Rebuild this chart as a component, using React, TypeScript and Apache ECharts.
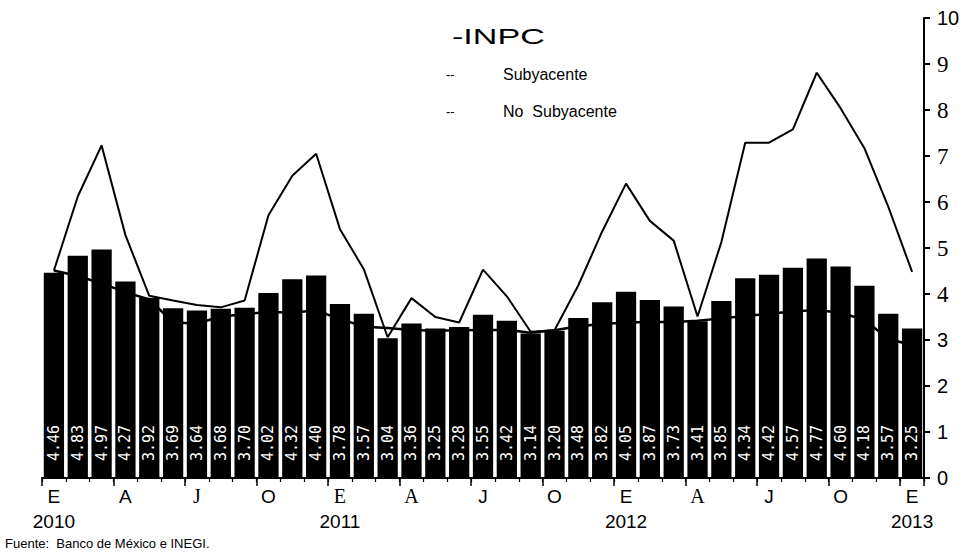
import React, { useEffect, useRef } from "react";
import * as echarts from "echarts";

const categories = [
  "E-2010", "F-2010", "M-2010", "A-2010", "M-2010", "J-2010", "J-2010", "A-2010", "S-2010", "O-2010", "N-2010", "D-2010",
  "E-2011", "F-2011", "M-2011", "A-2011", "M-2011", "J-2011", "J-2011", "A-2011", "S-2011", "O-2011", "N-2011", "D-2011",
  "E-2012", "F-2012", "M-2012", "A-2012", "M-2012", "J-2012", "J-2012", "A-2012", "S-2012", "O-2012", "N-2012", "D-2012",
  "E-2013",
];

const inpc = [
  4.46, 4.83, 4.97, 4.27, 3.92, 3.69, 3.64, 3.68, 3.70, 4.02, 4.32, 4.40,
  3.78, 3.57, 3.04, 3.36, 3.25, 3.28, 3.55, 3.42, 3.14, 3.20, 3.48, 3.82,
  4.05, 3.87, 3.73, 3.41, 3.85, 4.34, 4.42, 4.57, 4.77, 4.60, 4.18, 3.57,
  3.25,
];

const subyacente = [
  4.51, 4.39, 4.23, 4.04, 3.88, 3.38, 3.36, 3.51, 3.56, 3.61, 3.60, 3.64,
  3.46, 3.29, 3.26, 3.22, 3.20, 3.21, 3.22, 3.22, 3.16, 3.21, 3.30, 3.35,
  3.38, 3.39, 3.39, 3.42, 3.47, 3.52, 3.57, 3.62, 3.65, 3.59, 3.44, 3.02,
  2.89,
];

const noSubyacente = [
  4.51, 6.12, 7.23, 5.28, 3.96, 3.86, 3.76, 3.71, 3.86, 5.71, 6.57, 7.05,
  5.41, 4.54, 3.06, 3.91, 3.50, 3.38, 4.53, 3.95, 3.18, 3.21, 4.19, 5.36,
  6.40, 5.59, 5.16, 3.51, 5.13, 7.29, 7.29, 7.58, 8.81, 8.04, 7.17, 5.90,
  4.48,
];

const yTicks = [0, 10, 1];
const serifMonthIdx = [6, 12, 15, 27];
const serifYVals = [4, 5, 6, 7, 8, 9];

const legendTitle = "-INPC";
const legendItems = ["Subyacente", "No  Subyacente"];
const source = "Fuente:  Banco de México e INEGI.";

export default function App() {
  const ref = useRef<HTMLDivElement>(null);
  useEffect(() => {
    if (!ref.current) return;
    const chart = echarts.init(ref.current, null, { renderer: "svg" });
    const sans = "Liberation Sans";
    const serif = "Liberation Serif";
    chart.setOption({
      animation: false,
      backgroundColor: "#fff",
      grid: { left: 42, right: 44, top: 18, bottom: 75 },
      xAxis: [
        {
          type: "category",
          data: categories,
          boundaryGap: true,
          axisLine: { show: true, lineStyle: { color: "#000", width: 2 } },
          axisTick: {
            show: true,
            interval: (i: number) => i % 3 === 0,
            length: 8,
            lineStyle: { color: "#000", width: 1.5 },
          },
          axisLabel: {
            interval: (i: number) => i % 3 === 0,
            margin: 6,
            color: "#000",
            fontFamily: sans,
            fontSize: 19,
            formatter: (value: string, index: number) => {
              const [m, y] = value.split("-");
              const st = serifMonthIdx.includes(index) ? "s" : "a";
              return m === "E" ? `{${st}|${m}}\n{y|${y}}` : `{${st}|${m}}`;
            },
            rich: {
              a: { fontFamily: sans, fontSize: 19, lineHeight: 24, color: "#000" },
              s: { fontFamily: serif, fontSize: 20, lineHeight: 24, color: "#000" },
              y: { fontFamily: sans, fontSize: 19, lineHeight: 26, color: "#000" },
            },
          },
          splitLine: { show: false },
        },
        {
          type: "category",
          data: categories,
          position: "bottom",
          boundaryGap: true,
          axisLine: { show: false },
          axisTick: { show: true, interval: 0, length: 4, lineStyle: { color: "#000", width: 1.2 } },
          axisLabel: { show: false },
          splitLine: { show: false },
        },
      ],
      yAxis: {
        type: "value",
        position: "right",
        min: yTicks[0],
        max: yTicks[1],
        interval: yTicks[2],
        axisLine: { show: true, lineStyle: { color: "#000", width: 2 } },
        axisTick: { show: true, inside: false, length: 6, lineStyle: { color: "#000", width: 2 } },
        splitLine: { show: false },
        axisLabel: {
          margin: 13,
          color: "#000",
          fontFamily: sans,
          fontSize: 20,
          formatter: (v: number) => (serifYVals.includes(v) ? `{s|${v}}` : `{a|${v}}`),
          rich: {
            s: { fontFamily: serif, fontSize: 23, color: "#000" },
            a: { fontFamily: sans, fontSize: 20, color: "#000" },
          },
        },
      },
      series: [
        {
          name: "INPC",
          type: "bar",
          data: inpc,
          xAxisIndex: 0,
          barCategoryGap: "15%",
          itemStyle: { color: "#000" },
          z: 2,
          label: {
            show: true,
            position: "insideBottom",
            distance: 17,
            rotate: 90,
            align: "left",
            verticalAlign: "middle",
            color: "#fff",
            fontFamily: "DejaVu Sans Mono",
            fontSize: 15,
            formatter: (p: any) => p.value.toFixed(2),
          },
        },
        {
          name: "Subyacente",
          type: "line",
          data: subyacente,
          xAxisIndex: 0,
          symbol: "none",
          lineStyle: { color: "#000", width: 2.5 },
          z: 3,
        },
        {
          name: "No Subyacente",
          type: "line",
          data: noSubyacente,
          xAxisIndex: 0,
          symbol: "none",
          lineStyle: { color: "#000", width: 2 },
          z: 3,
        },
      ],
      graphic: [
        {
          type: "text",
          x: 452,
          y: 36,
          scaleX: 1.55,
          style: { text: legendTitle, font: `22px "${sans}"`, fill: "#000", textVerticalAlign: "middle" },
        },
        {
          type: "text",
          x: 446,
          y: 74,
          style: { text: "--", font: `13px "${sans}"`, fill: "#000", textVerticalAlign: "middle" },
        },
        {
          type: "text",
          x: 503,
          y: 74,
          style: { text: legendItems[0], font: `16px "${sans}"`, fill: "#000", textVerticalAlign: "middle" },
        },
        {
          type: "text",
          x: 446,
          y: 111,
          style: { text: "--", font: `13px "${sans}"`, fill: "#000", textVerticalAlign: "middle" },
        },
        {
          type: "text",
          x: 503,
          y: 111,
          style: { text: legendItems[1], font: `16px "${sans}"`, fill: "#000", textVerticalAlign: "middle" },
        },
        {
          type: "text",
          x: 5,
          y: 543,
          style: { text: source, font: `13px "${sans}"`, fill: "#000", textVerticalAlign: "middle" },
        },
      ],
    });
    return () => chart.dispose();
  }, []);
  return (
    <div
      ref={ref}
      style={{ position: "absolute", left: 0, top: 0, width: 968, height: 553, background: "#fff" }}
    />
  );
}
